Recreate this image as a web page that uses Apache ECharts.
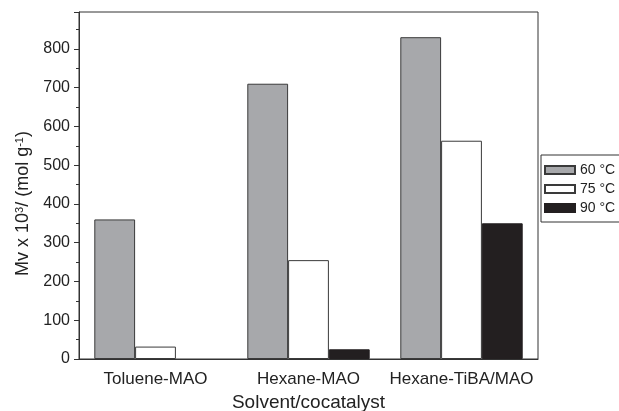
<!DOCTYPE html>
<html><head><meta charset="utf-8">
<script src="https://cdn.jsdelivr.net/npm/echarts@6/dist/echarts.min.js"></script>
<style>html,body{margin:0;padding:0;background:#fff}#c{width:619px;height:411px}</style>
</head><body><div id="c"></div>
<script>
const categories = ['Toluene-MAO', 'Hexane-MAO', 'Hexane-TiBA/MAO'];
const seriesNames = ['60 °C', '75 °C', '90 °C'];
const values60 = [360, 710, 830];
const values75 = [32, 255, 563];
const values90 = [null, 25, 350];

const font = 'Liberation Sans, Arial, sans-serif';
const axisColor = '#333';
const gridBox = { left: 79, right: 81, top: 12, bottom: 52, containLabel: false, outerBoundsMode: 'none' };
const chart = echarts.init(document.getElementById('c'));
chart.setOption({
  animation: false,
  backgroundColor: '#fff',
  textStyle: { fontFamily: font },
  grid: [
    Object.assign({ show: true, borderColor: axisColor, borderWidth: 1, backgroundColor: 'transparent' }, gridBox),
    Object.assign({}, gridBox)
  ],
  legend: {
    orient: 'vertical', left: 541, top: 155,
    icon: 'rect',
    itemWidth: 30, itemHeight: 8, itemGap: 5,
    padding: [8, 40, 7, 3],
    borderColor: axisColor, borderWidth: 1,
    textStyle: { fontSize: 14, color: '#222', fontFamily: font },
    data: seriesNames
  },
  xAxis: [{
    type: 'category', data: categories, gridIndex: 0,
    axisLine: { lineStyle: { color: axisColor } },
    axisTick: { length: 3, lineStyle: { color: axisColor } },
    axisLabel: { fontSize: 17, color: '#222', margin: 12, interval: 0 },
    name: 'Solvent/cocatalyst', nameLocation: 'middle', nameGap: 33,
    nameTextStyle: { fontSize: 19, color: '#222' }
  }, {
    type: 'category', data: categories, gridIndex: 1,
    axisLine: { show: false },
    axisTick: { alignWithLabel: true, length: 5, lineStyle: { color: axisColor } },
    axisLabel: { show: false }
  }],
  yAxis: [{
    type: 'value', min: 0, max: 895, interval: 100, gridIndex: 0,
    axisLine: { show: true, lineStyle: { color: axisColor } },
    axisTick: { show: true, length: 5, lineStyle: { color: axisColor } },
    minorTick: { show: true, splitNumber: 2, length: 3, lineStyle: { color: axisColor } },
    splitLine: { show: false },
    axisLabel: { fontSize: 16, color: '#222', margin: 9, showMaxLabel: false },
    name: 'Mv x 10{sup|3}/ (mol g{sup|-1})', nameLocation: 'middle', nameGap: 40, nameRotate: 90,
    nameTextStyle: {
      fontSize: 18, color: '#222', padding: [0, 36, 0, 0],
      rich: { sup: { fontSize: 11, verticalAlign: 'top', color: '#222', padding: [0, 0, 7, 0] } }
    }
  }, {
    type: 'value', gridIndex: 1, show: false, min: 0, max: 895
  }],
  series: [
    { name: seriesNames[0], type: 'bar', data: values60, barGap: '0%', barCategoryGap: '20%',
      itemStyle: { color: '#a7a8ab', borderColor: '#3a3a3a', borderWidth: 1 } },
    { name: seriesNames[1], type: 'bar', data: values75,
      itemStyle: { color: '#ffffff', borderColor: '#3a3a3a', borderWidth: 1 } },
    { name: seriesNames[2], type: 'bar', data: values90,
      itemStyle: { color: '#231f20', borderColor: '#231f20', borderWidth: 1 } }
  ]
});
</script></body></html>
